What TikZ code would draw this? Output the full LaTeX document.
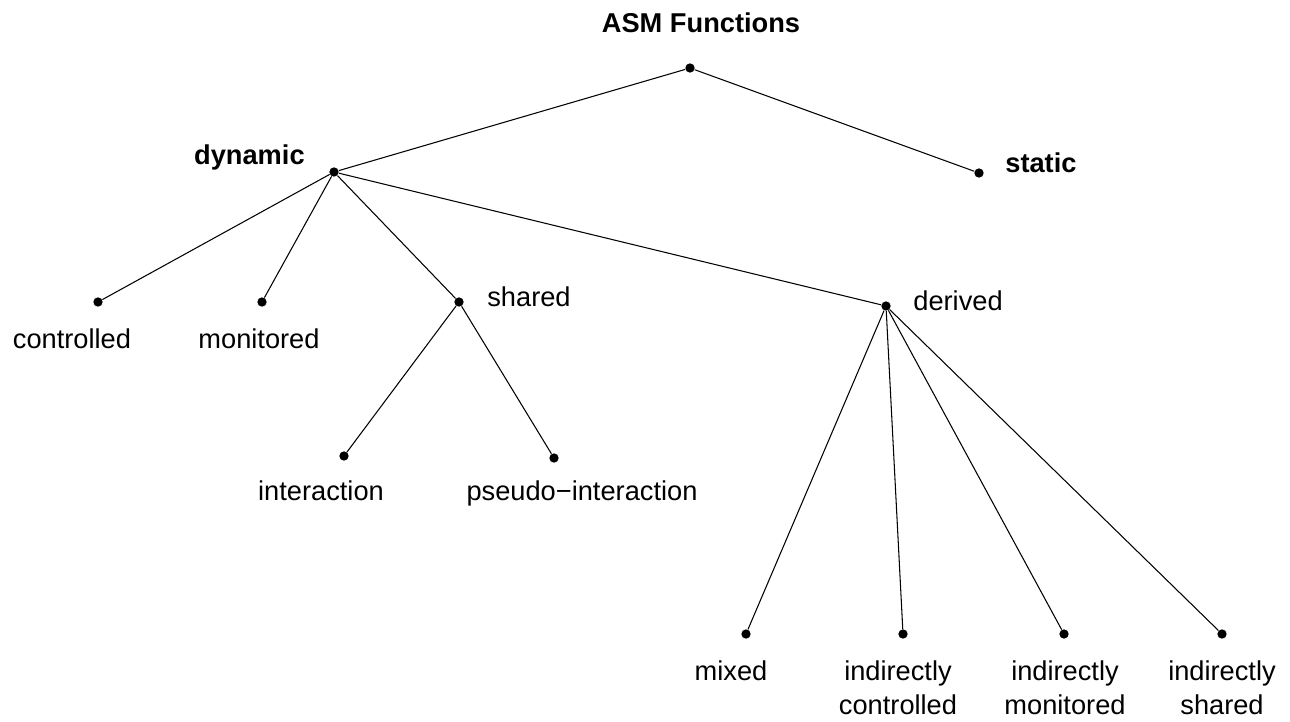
\documentclass[tikz,border=0pt]{standalone}
\usepackage{fontspec}
\setmainfont{Liberation Sans}

\begin{document}
\begin{tikzpicture}[x=0.02cm, y=-0.02cm, font=\fontsize{15.5}{19.3}\selectfont,
    dot/.style={circle, fill, inner sep=0pt, minimum size=5.3pt},
    edge/.style={line width=0.6pt},
    lbl/.style={inner sep=0pt},
    head/.style={lbl, font=\fontsize{15.5}{19.3}\selectfont\bfseries}]
    \useasboundingbox (0,0) rectangle (1290,721);
    % branch points
    \foreach \n/\x/\y in {root/690/68, dyn/334/172, stat/979/173, ctrl/98/302,
        mon/262/302, shr/459/302, der/886/306, inter/344/456, pseudo/554/458,
        mix/746/634, ictrl/903/634, imon/1064/634, ishr/1222/634}
        \node[dot] (\n) at (\x,\y) {};
    % edges
    \foreach \a/\b in {root/dyn, root/stat, dyn/ctrl, dyn/mon, dyn/shr, dyn/der,
        shr/inter, shr/pseudo, der/mix, der/ictrl, der/imon, der/ishr}
        \draw[edge] (\a) -- (\b);
    % labels
    \node[head, anchor=base] (l-root) at (701,32) {ASM Functions};
    \node[head, anchor=base east] (l-dyn) at (305,164) {dynamic};
    \node[head, anchor=base west] (l-stat) at (1005,172) {static};
    \node[lbl, anchor=base west] (l-shr) at (487,306) {shared};
    \node[lbl, anchor=base west] (l-der) at (913,310) {derived};
    \node[lbl, anchor=base] (l-ctrl) at (72,348) {controlled};
    \node[lbl, anchor=base] (l-mon) at (259,348) {monitored};
    \node[lbl, anchor=base] (l-inter) at (321,500) {interaction};
    \node[lbl, anchor=base] (l-pseudo) at (582,500) {pseudo−interaction};
    \node[lbl, anchor=base] (l-mix) at (731,680) {mixed};
    \foreach \n/\x/\t in {ictrl/898/controlled, imon/1065/monitored, ishr/1222/shared}
        \node[lbl, anchor=north, align=center] (l-\n) at (\x,660) {indirectly\\\t};
\end{tikzpicture}
\end{document}
